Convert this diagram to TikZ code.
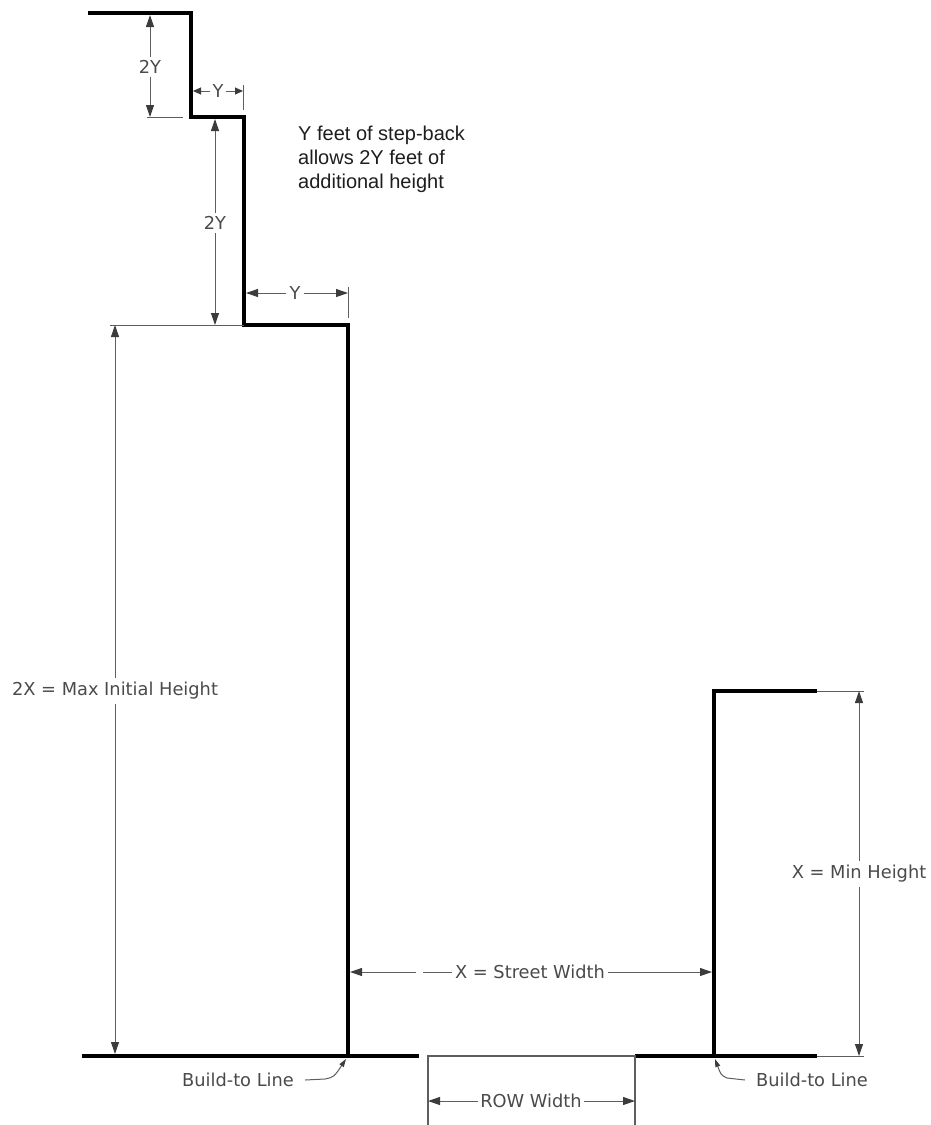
\documentclass[tikz,border=0pt]{standalone}
\usepackage{fontspec}
\setmainfont{DejaVu Sans}
\newfontfamily\notefont{Liberation Sans}
\usetikzlibrary{arrows.meta}
\definecolor{dimline}{HTML}{5E5E5E}
\definecolor{dimtext}{HTML}{4A4A4A}
\definecolor{tipcol}{HTML}{3C3C3C}
\definecolor{notecol}{HTML}{1E1E1E}
\begin{document}
\begin{tikzpicture}[x=1pt,y=-1pt,
  wall/.style={draw=black, line width=3.6pt, line join=miter},
  extln/.style={draw=dimline, line width=1pt},
  rowln/.style={draw=dimline, line width=1.3pt},
  dimarr/.style={draw=dimline, line width=1pt,
     -{Triangle[length=12pt,width=8pt,fill=tipcol,color=tipcol]}},
  dimarrs/.style={draw=dimline, line width=1pt,
     -{Triangle[length=8pt,width=7pt,fill=tipcol,color=tipcol]}},
  leadarr/.style={draw=dimline, line width=1pt,
     -{Triangle[length=8pt,width=5pt,fill=tipcol,color=tipcol]}},
  lbl/.style={font=\fontsize{17.8}{20}\selectfont, text=dimtext, inner sep=3pt},
  notestyle/.style={font=\notefont\fontsize{20}{24}\selectfont, text=notecol,
     align=left, inner sep=0pt, anchor=north west}
]
\useasboundingbox (0,0) rectangle (930,1125);

% ---- buildings and ground ----
\coordinate (t0) at (88,13);
\coordinate (t1) at (191,13);
\coordinate (t2) at (191,117);
\coordinate (t3) at (244,117);
\coordinate (t4) at (244,325);
\coordinate (t5) at (348,325);
\coordinate (t6) at (348,1056);
\draw[wall] (t0) -- (t1) -- (t2) -- (t3) -- (t4) -- (t5) -- (t6);
\coordinate (gl0) at (82,1056);
\coordinate (gl1) at (419,1056);
\draw[wall] (gl0) -- (gl1);

\coordinate (r0) at (817,691);
\coordinate (r1) at (714,691);
\coordinate (r2) at (714,1056);
\draw[wall] (r0) -- (r1) -- (r2);
\coordinate (gr0) at (635,1056);
\coordinate (gr1) at (817,1056);
\draw[wall] (gr0) -- (gr1);

% ---- right-of-way lines ----
\coordinate (w0) at (428,1125);
\coordinate (w1) at (428,1056);
\coordinate (w2) at (635,1056);
\coordinate (w3) at (635,1125);
\draw[rowln] (w0) -- (w1) -- (w2) -- (w3);

% ---- extension lines ----
\coordinate (e1a) at (817,691);  \coordinate (e1b) at (864,691);
\coordinate (e2a) at (817,1056); \coordinate (e2b) at (864,1056);
\coordinate (e3a) at (147,117);  \coordinate (e3b) at (183,117);
\coordinate (e4a) at (110,325);  \coordinate (e4b) at (244,325);
\coordinate (e5a) at (243,85);   \coordinate (e5b) at (243,110);
\coordinate (e6a) at (348,287);  \coordinate (e6b) at (348,318);
\draw[extln] (e1a) -- (e1b);
\draw[extln] (e2a) -- (e2b);
\draw[extln] (e3a) -- (e3b);
\draw[extln] (e4a) -- (e4b);
\draw[extln] (e5a) -- (e5b);
\draw[extln] (e6a) -- (e6b);

% ---- dimension: top 2Y ----
\node[lbl] (d2ya) at (150,67) {2Y};
\coordinate (d2ya1) at (150,15);
\coordinate (d2ya2) at (150,117);
\draw[dimarr] (d2ya.north) -- (d2ya1);
\draw[dimarr] (d2ya.south) -- (d2ya2);

% ---- dimension: top Y ----
\node[lbl, inner sep=2pt] (dya) at (218,91) {Y};
\coordinate (dya1) at (193,91);
\coordinate (dya2) at (243,91);
\draw[dimarrs] (dya.west) -- (dya1);
\draw[dimarrs] (dya.east) -- (dya2);

% ---- dimension: middle 2Y ----
\node[lbl] (d2yb) at (215,223) {2Y};
\coordinate (d2yb1) at (215,119);
\coordinate (d2yb2) at (215,325);
\draw[dimarr] (d2yb.north) -- (d2yb1);
\draw[dimarr] (d2yb.south) -- (d2yb2);

% ---- dimension: middle Y ----
\node[lbl] (dyb) at (295,293) {Y};
\coordinate (dyb1) at (246,293);
\coordinate (dyb2) at (348,293);
\draw[dimarr] (dyb.west) -- (dyb1);
\draw[dimarr] (dyb.east) -- (dyb2);

% ---- dimension: 2X ----
\node[lbl, inner sep=4pt] (d2x) at (115,691) {2X = Max Initial Height};
\coordinate (d2x1) at (115,325);
\coordinate (d2x2) at (115,1054);
\draw[dimarr] (d2x.north) -- (d2x1);
\draw[dimarr] (d2x.south) -- (d2x2);

% ---- dimension: X min height ----
\node[lbl, inner sep=4pt] (dx) at (859,874) {X = Min Height};
\coordinate (dx1) at (859,691);
\coordinate (dx2) at (859,1056);
\draw[dimarr] (dx.north) -- (dx1);
\draw[dimarr] (dx.south) -- (dx2);

% ---- dimension: street width ----
\node[lbl] (dsw) at (530,972) {X = Street Width};
\coordinate (dswg1) at (423,972);
\coordinate (dswg2) at (416,972);
\coordinate (dsw1) at (350,972);
\coordinate (dsw2) at (712,972);
\draw[extln] (dsw.west) -- (dswg1);
\draw[dimarr] (dswg2) -- (dsw1);
\draw[dimarr] (dsw.east) -- (dsw2);

% ---- dimension: ROW width ----
\node[lbl, inner sep=2pt] (drow) at (531,1101) {ROW Width};
\coordinate (drow1) at (428,1101);
\coordinate (drow2) at (635,1101);
\draw[dimarr] (drow.west) -- (drow1);
\draw[dimarr] (drow.east) -- (drow2);

% ---- build-to line labels ----
\node[lbl, inner sep=0pt] (bl1) at (238,1080) {Build-to Line};
\coordinate (bl1a) at (325,1079);
\coordinate (bl1t) at (346,1059);
\draw[leadarr] ([xshift=11pt]bl1.east) -- (bl1a) .. controls (334,1077) .. (bl1t);

\node[lbl, inner sep=0pt] (bl2) at (812,1080) {Build-to Line};
\coordinate (bl2a) at (727,1078);
\coordinate (bl2t) at (715,1059);
\draw[leadarr] ([xshift=-11pt]bl2.west) -- (bl2a) .. controls (721,1075) .. (bl2t);

% ---- note ----
\node[notestyle] (note) at (298,125.5) {Y feet of step-back\\allows 2Y feet of\\additional height};
\end{tikzpicture}
\end{document}
